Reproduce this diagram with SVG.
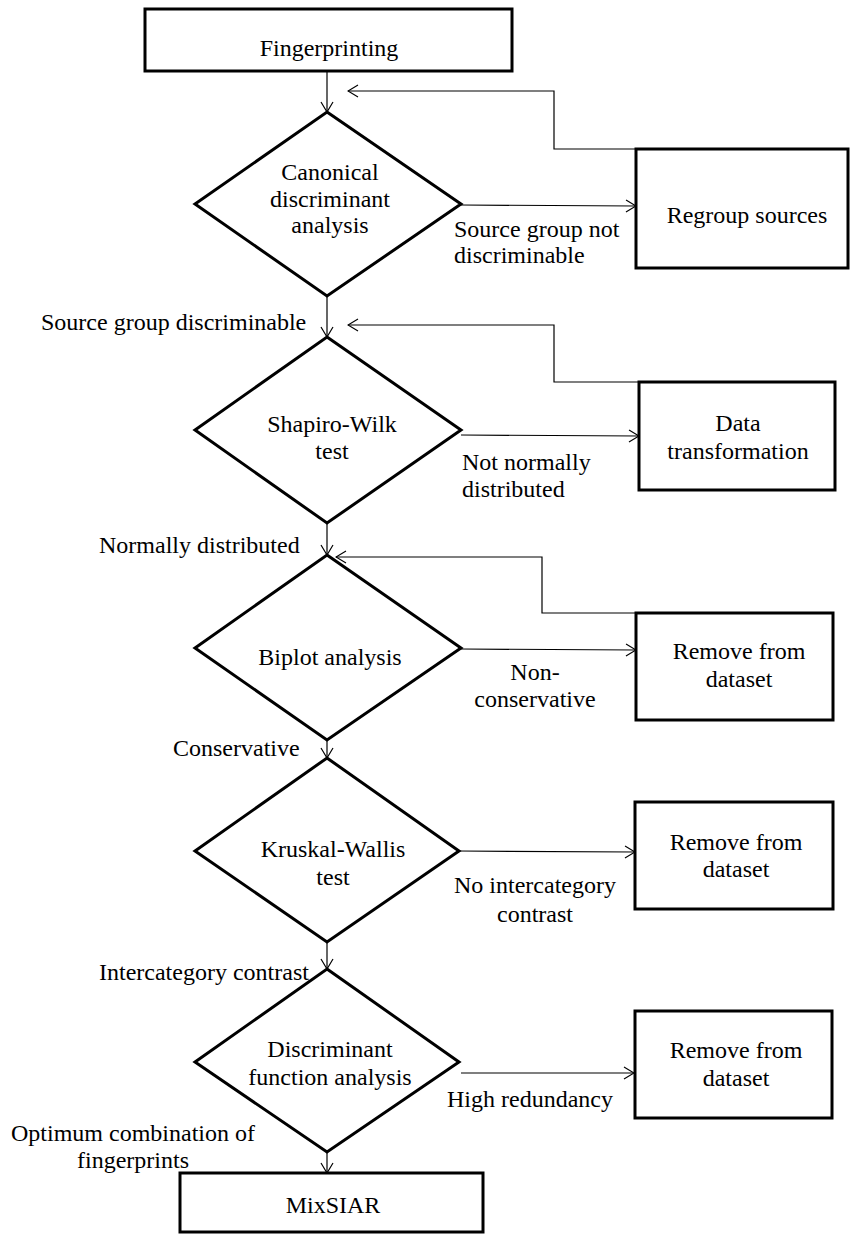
<svg xmlns="http://www.w3.org/2000/svg" width="853" height="1236" viewBox="0 0 853 1236">
<style>
.box{fill:#fff;stroke:#000;stroke-width:3}
.dia{fill:#fff;stroke:#000;stroke-width:3}
.con{fill:none;stroke:#000;stroke-width:1.2}
text{font-family:"Liberation Serif","Times New Roman",serif;font-size:24px;fill:#000}
.c{text-anchor:middle}
</style>
<defs>
<marker id="ah" markerUnits="userSpaceOnUse" markerWidth="12" markerHeight="14" refX="11" refY="7" orient="auto">
<path d="M1,1 L11,7 L1,13" fill="none" stroke="#000" stroke-width="1.2"/>
</marker>
</defs>
<rect width="853" height="1236" fill="#fff"/>
<g id="connectors">
<line class="con" x1="327" y1="71" x2="327" y2="112" marker-end="url(#ah)"/>
<polyline class="con" points="637,149 554,149 554,91 348,91" marker-end="url(#ah)"/>
<line class="con" x1="461" y1="205" x2="636" y2="206" marker-end="url(#ah)"/>
<line class="con" x1="327" y1="296" x2="327" y2="337" marker-end="url(#ah)"/>
<polyline class="con" points="640,382 554,382 554,325 348,325" marker-end="url(#ah)"/>
<line class="con" x1="461" y1="435" x2="639" y2="436" marker-end="url(#ah)"/>
<line class="con" x1="327" y1="523" x2="327" y2="555" marker-end="url(#ah)"/>
<polyline class="con" points="637,613 542,613 542,557 336,557" marker-end="url(#ah)"/>
<line class="con" x1="461" y1="649" x2="636" y2="650" marker-end="url(#ah)"/>
<line class="con" x1="327" y1="740" x2="327" y2="758" marker-end="url(#ah)"/>
<line class="con" x1="459" y1="851" x2="635" y2="852" marker-end="url(#ah)"/>
<line class="con" x1="327" y1="942" x2="327" y2="969" marker-end="url(#ah)"/>
<line class="con" x1="461" y1="1073" x2="634" y2="1073" marker-end="url(#ah)"/>
<line class="con" x1="327" y1="1152" x2="327" y2="1173" marker-end="url(#ah)"/>
</g>
<g id="fingerprinting">
<rect class="box" x="145" y="9" width="367" height="62"/>
<text class="c" x="329" y="56">Fingerprinting</text>
</g>
<g id="cda">
<polygon class="dia" points="327,112 461,204 327,296 195,204"/>
<text class="c" x="330" y="180">Canonical</text>
<text class="c" x="330" y="207">discriminant</text>
<text class="c" x="330" y="233">analysis</text>
</g>
<g id="regroup">
<rect class="box" x="636" y="149" width="212" height="119"/>
<text class="c" x="747" y="223">Regroup sources</text>
</g>
<g id="shapiro">
<polygon class="dia" points="327,337 461,430 327,523 195,430"/>
<text class="c" x="332" y="432">Shapiro-Wilk</text>
<text class="c" x="332" y="459">test</text>
</g>
<g id="transform">
<rect class="box" x="639" y="382" width="196" height="108"/>
<text class="c" x="738" y="431">Data</text>
<text class="c" x="738" y="459">transformation</text>
</g>
<g id="biplot">
<polygon class="dia" points="327,555 461,648 327,740 195,648"/>
<text class="c" x="330" y="665">Biplot analysis</text>
</g>
<g id="remove1">
<rect class="box" x="636" y="613" width="197" height="107"/>
<text class="c" x="739" y="659">Remove from</text>
<text class="c" x="739" y="687">dataset</text>
</g>
<g id="kruskal">
<polygon class="dia" points="327,758 459,851 327,942 195,851"/>
<text class="c" x="333" y="857">Kruskal-Wallis</text>
<text class="c" x="333" y="885">test</text>
</g>
<g id="remove2">
<rect class="box" x="635" y="802" width="198" height="107"/>
<text class="c" x="736" y="850">Remove from</text>
<text class="c" x="736" y="877">dataset</text>
</g>
<g id="dfa">
<polygon class="dia" points="327,969 459,1062 327,1152 195,1062"/>
<text class="c" x="330" y="1057">Discriminant</text>
<text class="c" x="330" y="1085">function analysis</text>
</g>
<g id="remove3">
<rect class="box" x="635" y="1011" width="197" height="107"/>
<text class="c" x="736" y="1058">Remove from</text>
<text class="c" x="736" y="1086">dataset</text>
</g>
<g id="mixsiar">
<rect class="box" x="180" y="1173" width="303" height="59"/>
<text class="c" x="333" y="1213">MixSIAR</text>
</g>
<g id="labels">
<text x="454" y="237">Source group not</text>
<text x="454" y="263">discriminable</text>
<text x="41" y="330">Source group discriminable</text>
<text x="462" y="470">Not normally</text>
<text x="462" y="497">distributed</text>
<text x="99" y="553">Normally distributed</text>
<text class="c" x="535" y="680">Non-</text>
<text class="c" x="535" y="707">conservative</text>
<text x="173" y="756">Conservative</text>
<text class="c" x="535" y="893">No intercategory</text>
<text class="c" x="535" y="922">contrast</text>
<text x="99" y="980">Intercategory contrast</text>
<text x="447" y="1107">High redundancy</text>
<text class="c" x="133" y="1141">Optimum combination of</text>
<text class="c" x="133" y="1168">fingerprints</text>
</g>
</svg>
